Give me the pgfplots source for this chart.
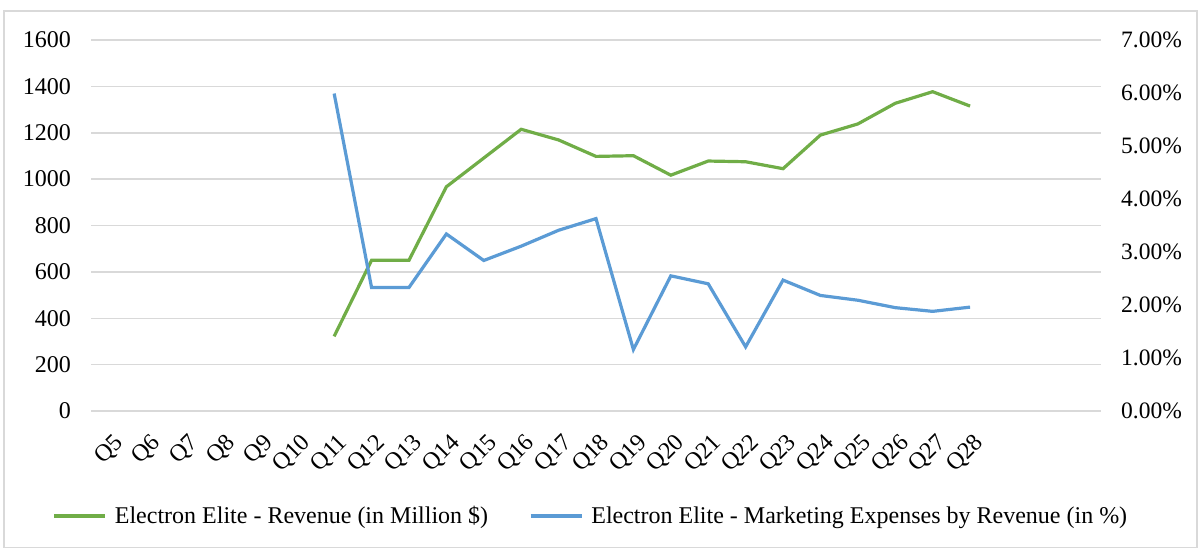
\documentclass[border=0pt]{standalone}
\usepackage{fontspec}
\setmainfont{Liberation Serif}
\usepackage{pgfplots}
\pgfplotsset{compat=1.18}
\definecolor{revgreen}{HTML}{70AD47}
\definecolor{mktblue}{HTML}{5B9BD5}
\definecolor{gridgray}{HTML}{D9D9D9}
\newcommand{\tickfont}{\fontsize{24}{28}\selectfont}
\begin{document}
\begin{tikzpicture}
\useasboundingbox (0,0) rectangle (1198pt,-548pt);
\draw[gridgray, line width=1.2pt] (4pt,-11pt) rectangle (1197pt,-547.4pt);
\pgfplotsset{
  base/.style={
    scale only axis,
    width=1010pt, height=371pt,
    at={(91pt,-411pt)}, anchor=south west,
    xmin=-0.5, xmax=26.5,
    axis line style={draw=none},
    major tick length=0pt,
    every tick label/.append style={font=\tickfont},
    /pgf/number format/assume math mode=true,
    /pgf/number format/1000 sep={},
  }
}
\begin{axis}[base,
  ymin=0, ymax=1600, ytick={0,200,...,1600},
  ymajorgrids, grid style={gridgray, line width=1.5pt},
  yticklabel={\pgfmathprintnumber[assume math mode=true,1000 sep={}]{\tick}},
  yticklabel style={font=\tickfont, inner sep=0pt, anchor=east, xshift=-20pt},
  xtick={0,...,23},
  xticklabels={Q5,Q6,Q7,Q8,Q9,Q10,Q11,Q12,Q13,Q14,Q15,Q16,Q17,Q18,Q19,Q20,Q21,Q22,Q23,Q24,Q25,Q26,Q27,Q28},
  xticklabel style={font=\tickfont, inner sep=0pt, anchor=north east, xshift=3pt, yshift=-21pt, rotate=45},
  legend style={at={(0.494,-0.283)}, anchor=center, draw=none, fill=none,
    legend columns=2, font=\fontsize{24}{28}\selectfont,
    nodes={inner sep=0pt},
    /tikz/every odd column/.append style={column sep=8pt},
    /tikz/every even column/.append style={column sep=41pt}},
  legend cell align=left,
  legend image code/.code={\draw[#1] (0pt,0pt) -- (51pt,0pt);},
]
\addplot[revgreen, line width=3.2pt] coordinates {
(6,322) (7,650) (8,650) (9,967) (10,1091) (11,1215) (12,1169) (13,1098)
(14,1101) (15,1017) (16,1078) (17,1075) (18,1045) (19,1190) (20,1238)
(21,1327) (22,1377) (23,1315)};
\addlegendentry{Electron Elite - Revenue (in Million \$)}
\addlegendimage{mktblue, line width=3.2pt}
\addlegendentry{Electron Elite - Marketing Expenses by Revenue (in \%)}
\end{axis}
\begin{axis}[base,
  ymin=0, ymax=7, ytick={0,1,...,7},
  axis x line=none,
  yticklabel pos=right,
  yticklabel={\pgfmathprintnumber[assume math mode=true,fixed,fixed zerofill,precision=2]{\tick}\%},
  yticklabel style={font=\fontsize{23.5}{27}\selectfont, inner sep=0pt, anchor=west, xshift=20pt},
  xtick=\empty,
]
\addplot[mktblue, line width=3.2pt] coordinates {
(6,5.99) (7,2.33) (8,2.33) (9,3.34) (10,2.84) (11,3.11) (12,3.41) (13,3.63)
(14,1.16) (15,2.55) (16,2.40) (17,1.21) (18,2.47) (19,2.18) (20,2.09)
(21,1.95) (22,1.88) (23,1.96)};
\end{axis}
\end{tikzpicture}
\end{document}
